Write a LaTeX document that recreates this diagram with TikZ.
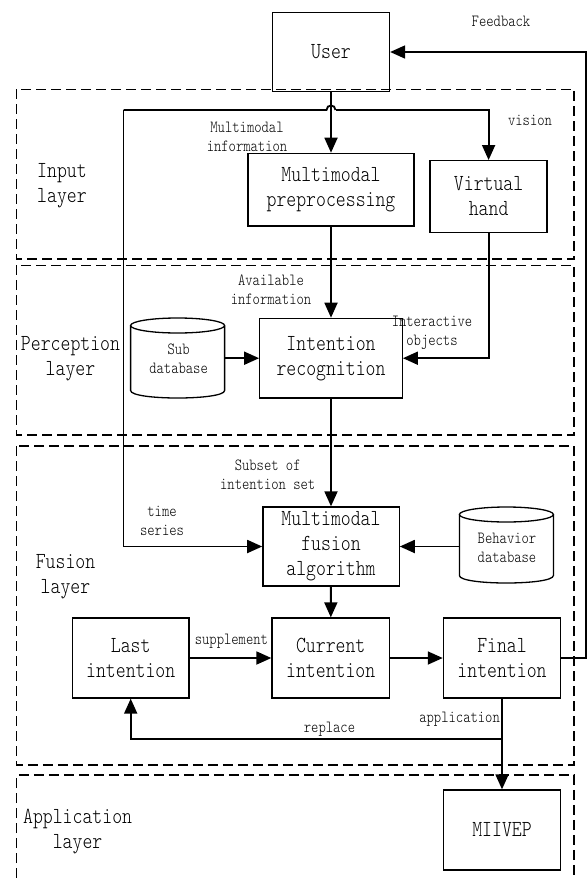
\documentclass[tikz,border=0pt]{standalone}
\usepackage{fontspec}
\newfontfamily\df[FakeStretch=0.82]{lmmonolt10-regular.otf}
\usetikzlibrary{arrows.meta}
\begin{document}
\begin{tikzpicture}[x=1pt,y=-1pt,
 box/.style={draw, line width=1.3pt, inner sep=0pt, align=center, font=\df\fontsize{23}{25}\selectfont},
 ph/.style={inner sep=0pt, align=center, font=\df\fontsize{17}{19}\selectfont},
 lbl/.style={align=center, inner sep=0pt, font=\df\fontsize{17}{19}\selectfont},
 lay/.style={align=center, inner sep=0pt, font=\df\fontsize{23}{25}\selectfont},
 arr/.style={line width=1.8pt, -{Triangle[length=15pt,width=13pt]}},
 ln/.style={line width=1.8pt},
 layerbox/.style={draw, line width=1.3pt, dash pattern=on 10pt off 5pt},
 cyl/.style={line width=1.3pt}]
\useasboundingbox (0,0) rectangle (587,878);

% layers
\draw[layerbox] (16.8,89.3) rectangle (574,259);
\draw[layerbox] (16.8,265.3) rectangle (574,435);
\draw[layerbox] (16.8,446) rectangle (574,765);
\draw[layerbox] (16.8,878) -- (16.8,775) -- (574,775) -- (574,878);

% nodes
\node[box, minimum width=117pt, minimum height=79.4pt] (user) at (331,52) {User};
\node[box, minimum width=166pt, minimum height=72.7pt] (mp) at (331,189.7) {Multimodal\\preprocessing};
\node[box, minimum width=117pt, minimum height=71.6pt] (vh) at (488.6,196.5) {Virtual\\hand};
\node[box, minimum width=142.5pt, minimum height=79.7pt] (ir) at (331,358.2) {Intention\\recognition};
\node[box, minimum width=136.3pt, minimum height=79pt] (mf) at (331,546.5) {Multimodal\\fusion\\algorithm};
\node[box, minimum width=116.7pt, minimum height=80pt] (last) at (130.7,658) {Last\\intention};
\node[box, minimum width=117.4pt, minimum height=80pt] (cur) at (330.7,658) {Current\\intention};
\node[box, minimum width=117.2pt, minimum height=80pt] (fin) at (502,658) {Final\\intention};
\node[box, minimum width=117pt, minimum height=80pt] (miivep) at (502,830) {MIIVEP};

% cylinders
\draw[cyl] (177.6,325.5) ellipse [x radius=47pt, y radius=7.5pt];
\draw[cyl] (130.6,325.5) -- (130.6,390.5) .. controls (130.6,400.5) and (224.6,400.5) .. (224.6,390.5) -- (224.6,325.5);
\node[ph, minimum width=94pt, minimum height=80pt] (sub) at (177.6,358.2) {};
\node[lbl] at (178.6,359) {Sub\\database};

\draw[cyl] (506.4,514.5) ellipse [x radius=47pt, y radius=7.5pt];
\draw[cyl] (459.4,514.5) -- (459.4,575.5) .. controls (459.4,585.5) and (553.4,585.5) .. (553.4,575.5) -- (553.4,514.5);
\node[ph, minimum width=94pt, minimum height=76pt] (beh) at (506.4,546.5) {};
\node[lbl] at (507,548) {Behavior\\database};

% connectors
\coordinate (jl) at (123.5,110);
\coordinate (ja) at (326.5,110);
\coordinate (jb) at (335.5,110);
\coordinate (fb) at (586,658);
\coordinate (rp) at (502,739);

\draw[arr] (user) -- (mp);
\draw[arr] (jl) -- (jl |- mf.west) -- (mf.west);
\draw[ln] (jl) -- (ja) .. controls (326.5,104) and (335.5,104) .. (jb);
\draw[arr] (jb) -| (vh.north);
\draw[arr] (mp) -- (ir);
\draw[arr] (vh.south) |- (ir.east);
\draw[arr] (sub.east) -- (ir.west);
\draw[arr] (ir) -- (mf);
\draw[arr] (beh.west) -- (mf.east);
\draw[arr] (mf) -- (cur);
\draw[arr] (last) -- (cur);
\draw[arr] (cur) -- (fin);
\draw[arr] (fin.east) -- (fb) |- (user.east);
\draw[arr] (fin) -- (miivep);
\draw[arr] (rp) -| (last.south);

% labels
\node[lbl] at (501,21) {Feedback};
\node[lbl] at (530,120) {vision};
\node[lbl] at (247,137) {Multimodal\\information};
\node[lbl] at (271,290) {Available\\information};
\node[lbl] at (432,333) {Interactive\\objects};
\node[lbl] at (267.7,475) {Subset of\\intention set};
\node[lbl] at (162,521) {time\\series};
\node[lbl] at (231.4,641) {supplement};
\node[lbl] at (329.5,729) {replace};
\node[lbl] at (459.6,719) {application};

\node[lay] at (62,186) {Input\\layer};
\node[lay] at (70.5,359) {Perception\\layer};
\node[lay] at (65.5,577) {Fusion\\layer};
\node[lay] at (77.6,832) {Application\\layer};
\end{tikzpicture}
\end{document}
